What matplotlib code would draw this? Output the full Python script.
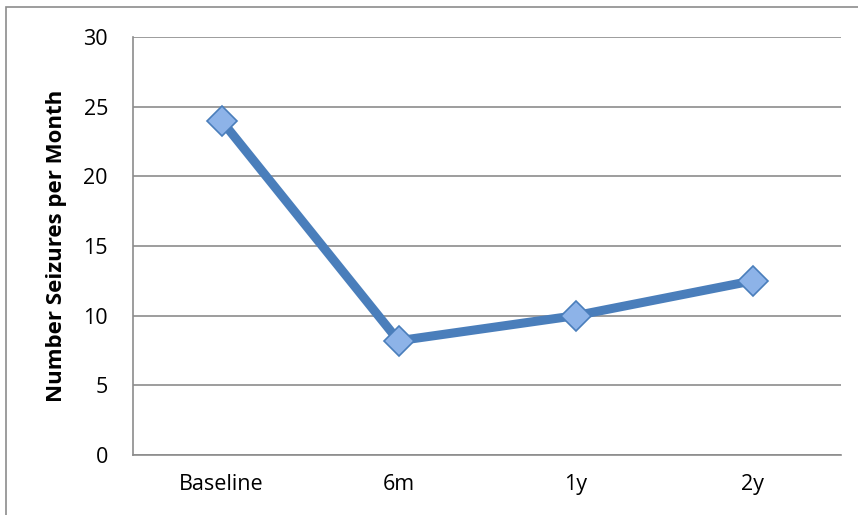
import matplotlib
matplotlib.use("Agg")
import matplotlib.pyplot as plt
from matplotlib.patches import Rectangle

# data
timepoints = ["Baseline", "6m", "1y", "2y"]
seizures = [24, 8.2, 10, 12.5]
yticks = [0, 5, 10, 15, 20, 25, 30]

plt.rcParams['font.family'] = ['Open Sans', 'DejaVu Sans']

fig = plt.figure(figsize=(8.58, 5.15), dpi=100)
ax = fig.add_axes([133/858, 1 - 455/515, (841-133)/858, (455-37)/515])

x = [i + 0.5 for i in range(len(timepoints))]
ax.plot(x, seizures, color='#4A7EBB', lw=6.5, solid_capstyle='butt', zorder=3)
ax.plot(x, seizures, ls='none', marker='D', ms=15, mfc='#8DB3E8', mec='#4A7EBB', mew=1.2, zorder=4)

ax.set_xlim(0, len(timepoints))
ax.set_ylim(0, 30)
ax.set_yticks(yticks)
ax.set_xticks(x)
ax.set_xticklabels(timepoints)
ax.grid(axis='y', color='#8C8C8C', lw=1.2)
ax.set_axisbelow(True)
for s in ['top', 'right']:
    ax.spines[s].set_visible(False)
for s in ['left', 'bottom']:
    ax.spines[s].set_color('#8C8C8C')
    ax.spines[s].set_linewidth(1.2)
ax.tick_params(length=0, labelsize=15.5, pad=18)
ax.tick_params(axis='x', pad=14)
ax.set_ylabel('Number Seizures per Month', fontsize=16, fontweight='bold', labelpad=12)

# chart border
fig.patches.append(Rectangle((6/858, -0.1), 1.2, 1 - 7/515 + 0.1, transform=fig.transFigure,
                             fill=False, edgecolor='#8C8C8C', lw=1.2))

fig.savefig('out.png', dpi=100)
